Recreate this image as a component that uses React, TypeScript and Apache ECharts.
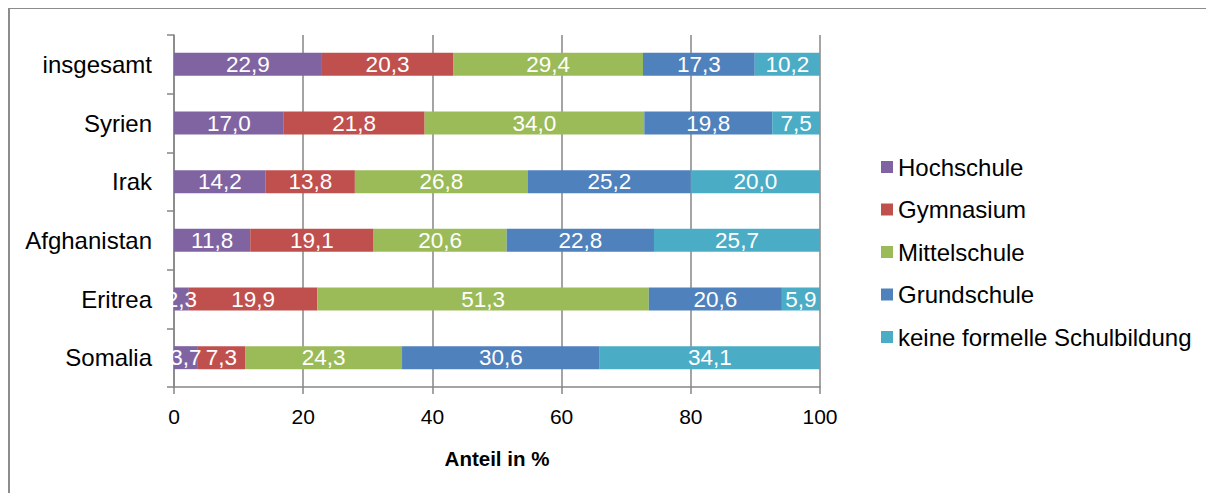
import React, { useEffect, useRef } from "react";
import * as echarts from "echarts";

const categories = ["Somalia", "Eritrea", "Afghanistan", "Irak", "Syrien", "insgesamt"];
const seriesNames = ["Hochschule", "Gymnasium", "Mittelschule", "Grundschule", "keine formelle Schulbildung"];
const hochschule = [3.7, 2.3, 11.8, 14.2, 17.0, 22.9];
const gymnasium = [7.3, 19.9, 19.1, 13.8, 21.8, 20.3];
const mittelschule = [24.3, 51.3, 20.6, 26.8, 34.0, 29.4];
const grundschule = [30.6, 20.6, 22.8, 25.2, 19.8, 17.3];
const keine = [34.1, 5.9, 25.7, 20.0, 7.5, 10.2];
const colors = ["#8064A2", "#C0504D", "#9BBB59", "#4F81BD", "#4BACC6"];
const xTicks = [0, 20, 40, 60, 80, 100];

const FONT = "'Liberation Sans', Arial, sans-serif";

export default function App() {
  const ref = useRef<HTMLDivElement>(null);
  useEffect(() => {
    if (!ref.current) return;
    const chart = echarts.init(ref.current, null, { renderer: "svg" });
    const data = [hochschule, gymnasium, mittelschule, grundschule, keine];
    chart.setOption({
      animation: false,
      textStyle: { fontFamily: FONT },
      grid: { left: 164, top: 26, right: 394, bottom: 106 },
      legend: {
        orient: "vertical",
        left: 866,
        top: 141,
        itemWidth: 12,
        itemHeight: 12,
        itemGap: 18.5,
        icon: "rect",
        textStyle: { fontFamily: FONT, fontSize: 24, color: "#000" },
        data: seriesNames,
      },
      xAxis: {
        type: "value",
        min: xTicks[0],
        max: xTicks[xTicks.length - 1],
        interval: 20,
        name: "Anteil in %",
        nameLocation: "middle",
        nameGap: 61,
        nameTextStyle: { fontFamily: FONT, fontSize: 20.5, fontWeight: "bold", color: "#000" },
        axisLine: { show: true, lineStyle: { color: "#868686", width: 1.5 } },
        axisTick: { show: true, length: 7, lineStyle: { color: "#868686", width: 1.5 } },
        axisLabel: { fontFamily: FONT, fontSize: 21, color: "#000", margin: 19 },
        splitLine: { show: true, lineStyle: { color: "#868686", width: 1.5 } },
      },
      yAxis: {
        type: "category",
        data: categories,
        axisLine: { show: true, lineStyle: { color: "#868686", width: 1.5 } },
        axisTick: { show: true, length: 7, lineStyle: { color: "#868686", width: 1.5 } },
        axisLabel: { fontFamily: FONT, fontSize: 24, color: "#000", margin: 22 },
      },
      series: seriesNames.map((name, i) => ({
        name,
        type: "bar",
        stack: "total",
        barWidth: 23,
        itemStyle: { color: colors[i] },
        label: {
          show: true,
          position: "inside",
          color: "#fff",
          fontFamily: FONT,
          fontSize: 22.5,
          formatter: (p: any) => Number(p.value).toFixed(1).replace(".", ","),
        },
        data: data[i],
      })),
    });
    return () => chart.dispose();
  }, []);
  return (
    <div
      style={{
        width: 1206,
        height: 486,
        marginTop: -1,
        borderTop: "2px solid #8c8c8c",
        borderLeft: "2px solid #8c8c8c",
        boxSizing: "border-box",
        overflow: "hidden",
      }}
    >
      <div ref={ref} style={{ width: 1204, height: 484 }} />
    </div>
  );
}
